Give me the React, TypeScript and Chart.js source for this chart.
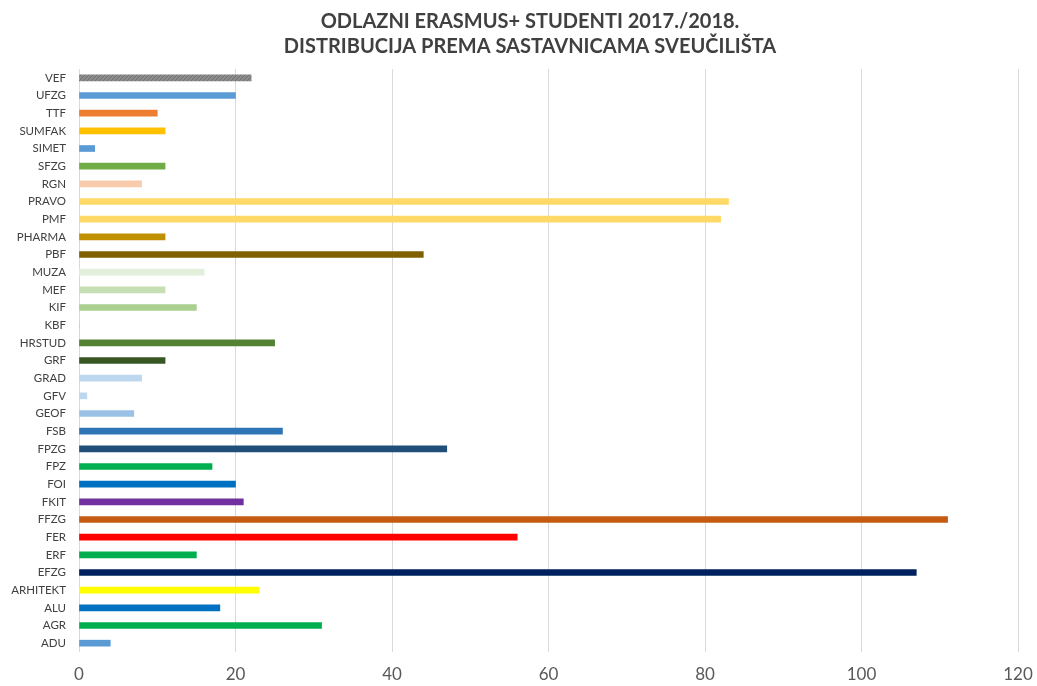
import React, { useEffect, useRef } from "react";
import { Chart, registerables } from "chart.js";

Chart.register(...registerables);

const titleLines = [
  "ODLAZNI ERASMUS+ STUDENTI 2017./2018.",
  "DISTRIBUCIJA PREMA SASTAVNICAMA SVEUČILIŠTA",
];

const categories = [
  "VEF", "UFZG", "TTF", "SUMFAK", "SIMET", "SFZG", "RGN", "PRAVO", "PMF", "PHARMA",
  "PBF", "MUZA", "MEF", "KIF", "KBF", "HRSTUD", "GRF", "GRAD", "GFV", "GEOF",
  "FSB", "FPZG", "FPZ", "FOI", "FKIT", "FFZG", "FER", "ERF", "EFZG", "ARHITEKT",
  "ALU", "AGR", "ADU",
];

const students = [
  22, 20, 10, 11, 2, 11, 8, 83, 82, 11,
  44, 16, 11, 15, 0, 25, 11, 8, 1, 7,
  26, 47, 17, 20, 21, 111, 56, 15, 107, 23,
  18, 31, 4,
];

const barColors = [
  "PATTERN", "#5b9bd5", "#ed7d31", "#ffc000", "#5b9bd5", "#70ad47", "#f8cbad", "#ffd966", "#ffd966", "#bf9000",
  "#7f6000", "#e2efda", "#c6e0b4", "#a9d08e", "#a9d08e", "#548235", "#375623", "#bdd7ee", "#bdd7ee", "#9bc2e6",
  "#2e75b6", "#1f4e79", "#00b050", "#0070c0", "#7030a0", "#c55a11", "#ff0000", "#00b050", "#002060", "#ffff00",
  "#0070c0", "#00b050", "#5b9bd5",
];

const xTicks = [0, 20, 40, 60, 80, 100, 120];

function makePattern(): CanvasPattern | string {
  const c = document.createElement("canvas");
  c.width = 4;
  c.height = 4;
  const ctx = c.getContext("2d");
  if (!ctx) return "#808080";
  ctx.fillStyle = "#8c8c8c";
  ctx.fillRect(0, 0, 4, 4);
  ctx.strokeStyle = "#6e6e6e";
  ctx.lineWidth = 1;
  ctx.beginPath();
  ctx.moveTo(0, 4);
  ctx.lineTo(4, 0);
  ctx.stroke();
  const p = ctx.createPattern(c, "repeat");
  return p || "#808080";
}

const titleShift = {
  id: "titleShift",
  afterLayout(chart: any) {
    const t = chart.titleBlock;
    if (t) t.left = 42;
  },
};

export default function App() {
  const ref = useRef<HTMLCanvasElement>(null);

  useEffect(() => {
    if (!ref.current) return;
    const pattern = makePattern();
    const colors = barColors.map((c) => (c === "PATTERN" ? pattern : c));
    const chart = new Chart(ref.current, {
      type: "bar",
      data: {
        labels: categories,
        datasets: [
          {
            label: "Studenti",
            data: students,
            backgroundColor: colors as any,
            borderWidth: 0,
            barThickness: 6,
          },
        ],
      },
      plugins: [titleShift],
      options: {
        indexAxis: "y",
        animation: false,
        responsive: true,
        maintainAspectRatio: false,
        layout: { padding: { left: 0, right: 19, top: 0, bottom: 0 } },
        plugins: {
          legend: { display: false },
          tooltip: { enabled: false },
          title: {
            display: true,
            text: titleLines,
            color: "#404040",
            font: { family: "Lato, 'Open Sans', sans-serif", size: 20, weight: "bold", lineHeight: 1.25 },
            padding: { top: 9, bottom: 10 },
          },
        },
        scales: {
          x: {
            min: 0,
            max: 120,
            afterBuildTicks: (axis: any) => {
              axis.ticks = xTicks.map((v) => ({ value: v }));
            },
            afterFit: (axis: any) => {
              axis.height = 34;
              axis.paddingRight = 0;
              axis.paddingLeft = 0;
            },
            grid: { color: "#d9d9d9", lineWidth: 1, drawTicks: false },
            border: { display: false },
            ticks: {
              color: "#595959",
              padding: 12,
              font: { family: "Lato, 'Open Sans', sans-serif", size: 17 },
            },
          },
          y: {
            afterFit: (axis: any) => {
              axis.width = 79;
            },
            grid: { display: false, drawTicks: false },
            border: { display: false },
            ticks: {
              autoSkip: false,
              color: "#404040",
              padding: 13,
              font: { family: "Lato, 'Open Sans', sans-serif", size: 11.5 },
            },
          },
        },
      },
    });
    return () => chart.destroy();
  }, []);

  return (
    <div style={{ position: "fixed", left: 0, top: 0, width: 1037, height: 686, background: "#fff" }}>
      <canvas ref={ref} />
    </div>
  );
}
